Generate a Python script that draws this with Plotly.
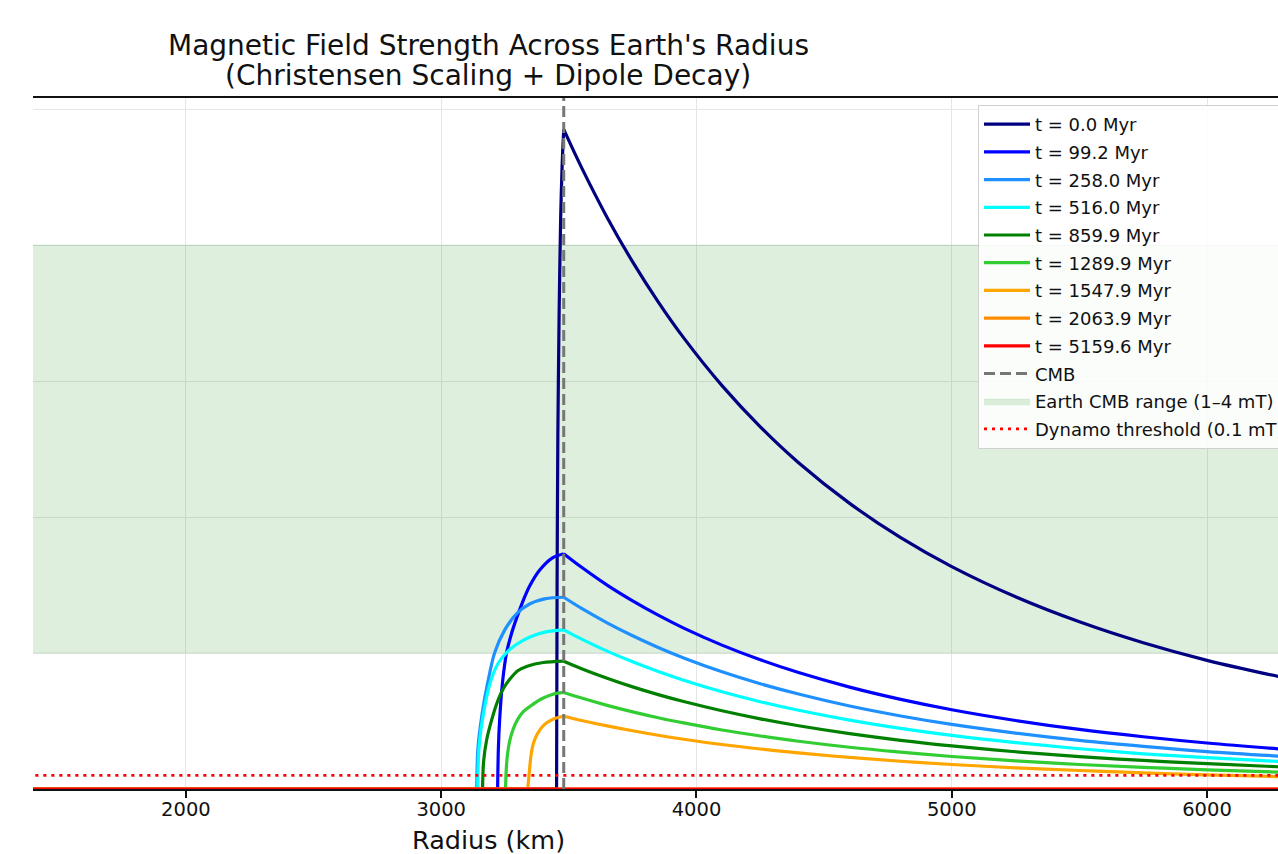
import plotly.graph_objects as go

# ---------------- data ----------------
R_CMB = 3480          # km, core-mantle boundary
R_EARTH = 6371        # km
EARTH_CMB_RANGE = [1, 4]   # mT
DYNAMO_THRESHOLD = 0.1     # mT

time_labels = ["t = 0.0 Myr", "t = 99.2 Myr", "t = 258.0 Myr", "t = 516.0 Myr",
               "t = 859.9 Myr", "t = 1289.9 Myr", "t = 1547.9 Myr",
               "t = 2063.9 Myr", "t = 5159.6 Myr"]
colors = ["#000080", "#0000ff", "#1e90ff", "#00ffff", "#008000",
          "#32cd32", "#ffa500", "#ff8c00", "#ff0000"]

# radii sampled above the CMB (km)
r_mantle = [3480, 3550, 3650, 3750, 3850, 3950, 4100, 4250, 4400, 4600,
            4800, 5000, 5250, 5500, 5750, 6000, 6371]

# field in the mantle (mT), one list per curve
b_mantle_0 = [4.850, 4.569, 4.203, 3.876, 3.582, 3.317, 2.966, 2.663, 2.399, 2.100,
              1.848, 1.635, 1.413, 1.229, 1.075, 0.946, 0.790]
b_mantle_1 = [1.730, 1.630, 1.499, 1.383, 1.278, 1.183, 1.058, 0.950, 0.856, 0.749,
              0.659, 0.583, 0.504, 0.438, 0.384, 0.338, 0.282]
b_mantle_2 = [1.410, 1.328, 1.222, 1.127, 1.041, 0.964, 0.862, 0.774, 0.698, 0.610,
              0.537, 0.475, 0.411, 0.357, 0.313, 0.275, 0.232]
b_mantle_3 = [1.170, 1.102, 1.014, 0.935, 0.864, 0.800, 0.715, 0.642, 0.579, 0.507,
              0.446, 0.394, 0.341, 0.296, 0.259, 0.230, 0.194]
b_mantle_4 = [0.940, 0.885, 0.815, 0.751, 0.694, 0.643, 0.575, 0.516, 0.465, 0.407,
              0.358, 0.317, 0.274, 0.238, 0.210, 0.186, 0.156]
b_mantle_5 = [0.710, 0.669, 0.615, 0.567, 0.524, 0.486, 0.434, 0.390, 0.351, 0.307,
              0.271, 0.239, 0.207, 0.180, 0.159, 0.141, 0.119]
b_mantle_6 = [0.535, 0.504, 0.464, 0.428, 0.395, 0.366, 0.327, 0.294, 0.265, 0.232,
              0.204, 0.180, 0.156, 0.136, 0.119, 0.104, 0.087]
b_mantle_7 = [0.0] * len(r_mantle)
b_mantle_8 = [0.0] * len(r_mantle)

# field inside the outer core: zero below the onset radius, then rising to the CMB
r_onset = [3452, 3221, 3139, 3143, 3162, 3252, 3339, 3480, 3480]
r_core_0 = [3452, 3454, 3457, 3462, 3468, 3474, 3480]
b_core_0 = [0, 1.5, 2.6, 3.5, 4.2, 4.6, 4.85]
r_core_1 = [3221, 3224, 3229, 3240, 3256, 3275, 3296, 3320, 3346, 3386, 3436, 3480]
b_core_1 = [0, 0.30, 0.51, 0.78, 1.00, 1.14, 1.26, 1.38, 1.49, 1.61, 1.70, 1.73]
r_core_2 = [3139, 3144, 3160, 3182, 3209, 3249, 3296, 3346, 3410, 3480]
b_core_2 = [0, 0.30, 0.55, 0.78, 1.00, 1.17, 1.29, 1.36, 1.40, 1.41]
r_core_3 = [3143, 3148, 3165, 3195, 3225, 3260, 3300, 3350, 3410, 3480]
b_core_3 = [0, 0.30, 0.55, 0.80, 0.93, 1.01, 1.07, 1.12, 1.155, 1.17]
r_core_4 = [3162, 3166, 3178, 3198, 3220, 3241, 3270, 3300, 3340, 3400, 3480]
b_core_4 = [0, 0.20, 0.36, 0.51, 0.64, 0.73, 0.81, 0.87, 0.905, 0.93, 0.94]
r_core_5 = [3252, 3255, 3260, 3268, 3280, 3299, 3320, 3350, 3390, 3435, 3480]
b_core_5 = [0, 0.15, 0.26, 0.35, 0.43, 0.51, 0.565, 0.61, 0.66, 0.695, 0.71]
r_core_6 = [3339, 3345, 3352, 3362, 3378, 3405, 3440, 3480]
b_core_6 = [0, 0.12, 0.25, 0.34, 0.41, 0.475, 0.515, 0.535]
r_core_7 = [3480, 3480]
b_core_7 = [0, 0]
r_core_8 = [3480, 3480]
b_core_8 = [0, 0]

x_ticks = [2000, 3000, 4000, 5000, 6000]
x_view = [1401, 6278]
y_view = [0, 5.081]

r_core = [r_core_0, r_core_1, r_core_2, r_core_3, r_core_4, r_core_5, r_core_6, r_core_7, r_core_8]
b_core = [b_core_0, b_core_1, b_core_2, b_core_3, b_core_4, b_core_5, b_core_6, b_core_7, b_core_8]
b_mantle = [b_mantle_0, b_mantle_1, b_mantle_2, b_mantle_3, b_mantle_4, b_mantle_5,
            b_mantle_6, b_mantle_7, b_mantle_8]

FONT = "DejaVu Sans"
LW = 3.2
fig = go.Figure()

# Earth CMB range band
fig.add_trace(go.Scatter(
    x=[0, R_EARTH, R_EARTH, 0, 0],
    y=[EARTH_CMB_RANGE[0], EARTH_CMB_RANGE[0], EARTH_CMB_RANGE[1], EARTH_CMB_RANGE[1], EARTH_CMB_RANGE[0]],
    mode="lines", fill="toself", fillcolor="rgba(0,128,0,0.13)",
    line=dict(color="rgba(0,128,0,0.10)", width=1),
    name="Earth CMB range (1–4 mT)", legendrank=11, legendgroup="g11", hoverinfo="skip"))

for i in range(len(time_labels)):
    grp = f"g{i}"
    # zero part below onset
    fig.add_trace(go.Scatter(
        x=[0, r_onset[i]], y=[0, 0], mode="lines",
        line=dict(color=colors[i], width=LW),
        name=time_labels[i], legendrank=i + 1, legendgroup=grp, showlegend=True))
    # rising part inside the core
    fig.add_trace(go.Scatter(
        x=r_core[i], y=b_core[i], mode="lines",
        line=dict(color=colors[i], width=LW, shape="spline", smoothing=0.8),
        name=time_labels[i], legendgroup=grp, showlegend=False))
    # dipole decay in the mantle
    fig.add_trace(go.Scatter(
        x=r_mantle, y=b_mantle[i], mode="lines",
        line=dict(color=colors[i], width=LW, shape="spline", smoothing=1.0),
        name=time_labels[i], legendgroup=grp, showlegend=False))

fig.add_trace(go.Scatter(
    x=[R_CMB, R_CMB], y=[0, y_view[1]], mode="lines",
    line=dict(color="#777777", width=3, dash="11px,5px"),
    name="CMB", legendrank=10, legendgroup="g10"))

fig.add_trace(go.Scatter(
    x=[0, R_EARTH], y=[DYNAMO_THRESHOLD, DYNAMO_THRESHOLD], mode="lines",
    line=dict(color="#ff0000", width=2.8, dash="3px,5px"),
    name="Dynamo threshold (0.1 mT)", legendrank=12, legendgroup="g12"))

PX0 = 33
PW = 1245
center_paper = (488 - PX0) / PW

fig.update_layout(
    width=1278, height=854,
    margin=dict(l=PX0, r=0, t=98, b=65, autoexpand=False),
    paper_bgcolor="white", plot_bgcolor="white",
    font=dict(family=FONT, color="#111111"),
    showlegend=True,
    legend=dict(
        x=(978 - PX0) / PW, y=1 - (105 - 98) / 691, xanchor="left", yanchor="top",
        bgcolor="rgba(255,255,255,0.85)", bordercolor="#d0d0d0", borderwidth=1,
        font=dict(family=FONT, size=18, color="#111111"),
        traceorder="grouped", tracegroupgap=1.3, itemwidth=46),
    xaxis=dict(
        range=x_view, tickvals=x_ticks, ticks="outside", ticklen=7, tickwidth=1.5,
        tickcolor="#111111", showline=True, linecolor="#111111", linewidth=1.6,
        mirror=True, showgrid=True, gridcolor="#e6e6e6", gridwidth=1,
        zeroline=False, ticklabelstandoff=-5,
        tickfont=dict(family=FONT, size=19.5, color="#111111")),
    yaxis=dict(
        range=y_view, dtick=1, tick0=0, showticklabels=False, ticks="",
        showline=False, showgrid=True, gridcolor="#e6e6e6", gridwidth=1,
        zeroline=False),
    annotations=[
        dict(text="Magnetic Field Strength Across Earth's Radius", xref="paper", yref="paper",
             x=center_paper, y=1 + (98 - 45) / 691, xanchor="center", yanchor="middle",
             showarrow=False, font=dict(family=FONT, size=28, color="#111111")),
        dict(text="(Christensen Scaling + Dipole Decay)", xref="paper", yref="paper",
             x=center_paper, y=1 + (98 - 76) / 691, xanchor="center", yanchor="middle",
             showarrow=False, font=dict(family=FONT, size=28, color="#111111")),
        dict(text="Radius (km)", xref="paper", yref="paper",
             x=center_paper, y=-(840 - 789) / 691, xanchor="center", yanchor="middle",
             showarrow=False, font=dict(family=FONT, size=25.5, color="#111111")),
    ],
)

fig.write_html("out.html")
